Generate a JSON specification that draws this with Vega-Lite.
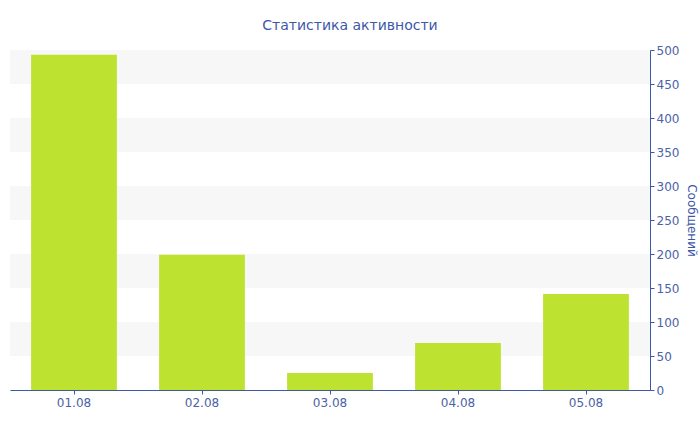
{
  "$schema": "https://vega.github.io/schema/vega-lite/v6.json",
  "width": 640,
  "height": 340,
  "autosize": {"type": "none"},
  "padding": {"left": 10, "top": 50, "right": 50, "bottom": 40},
  "background": "white",
  "title": {
    "text": "Статистика активности",
    "font": "DejaVu Sans",
    "fontSize": 14,
    "fontWeight": "normal",
    "color": "#3d58a8",
    "anchor": "middle",
    "dx": 20,
    "offset": 11
  },
  "config": {
    "view": {"stroke": null},
    "font": "DejaVu Sans",
    "axisY": {
      "orient": "right",
      "values": [0, 50, 100, 150, 200, 250, 300, 350, 400, 450, 500],
      "labelOverlap": false,
      "labelFlush": false,
      "labelFontSize": 12,
      "labelColor": "#4a62a8",
      "labelPadding": 2,
      "domainColor": "#3d58a8",
      "tickColor": "#3d58a8",
      "tickSize": 4,
      "grid": false,
      "titleFontSize": 12,
      "titleFontWeight": "normal",
      "titleColor": "#3d58a8",
      "titlePadding": 6
    }
  },
  "datasets": {
    "days": [
      {"day": "01.08", "messages": 493},
      {"day": "02.08", "messages": 199},
      {"day": "03.08", "messages": 25},
      {"day": "04.08", "messages": 69},
      {"day": "05.08", "messages": 141}
    ],
    "bands": [
      {"lo": 450, "hi": 500},
      {"lo": 350, "hi": 400},
      {"lo": 250, "hi": 300},
      {"lo": 150, "hi": 200},
      {"lo": 50, "hi": 100}
    ]
  },
  "layer": [
    {
      "data": {"name": "bands"},
      "mark": {"type": "rect", "color": "#f7f7f7"},
      "encoding": {
        "y": {
          "field": "lo",
          "type": "quantitative",
          "scale": {"domain": [0, 500], "nice": false},
          "axis": {
            "orient": "right",
            "title": "Сообщений",
            "values": [0, 50, 100, 150, 200, 250, 300, 350, 400, 450, 500]
          }
        },
        "y2": {"field": "hi"}
      }
    },
    {
      "data": {"name": "days"},
      "mark": {"type": "bar", "color": "#bde22f"},
      "encoding": {
        "x": {
          "field": "day",
          "type": "ordinal",
          "scale": {"paddingInner": 0.33, "paddingOuter": 0.165},
          "axis": {
            "title": null,
            "labelAngle": 0,
            "labelFontSize": 12,
            "labelColor": "#4a62a8",
            "labelPadding": 3,
            "domainColor": "#3d58a8",
            "tickColor": "#3d58a8",
            "tickSize": 4,
            "grid": false
          }
        },
        "y": {
          "field": "messages",
          "type": "quantitative",
          "scale": {"domain": [0, 500], "nice": false},
          "axis": {
            "orient": "right",
            "title": "Сообщений",
            "values": [0, 50, 100, 150, 200, 250, 300, 350, 400, 450, 500]
          }
        }
      }
    }
  ]
}
